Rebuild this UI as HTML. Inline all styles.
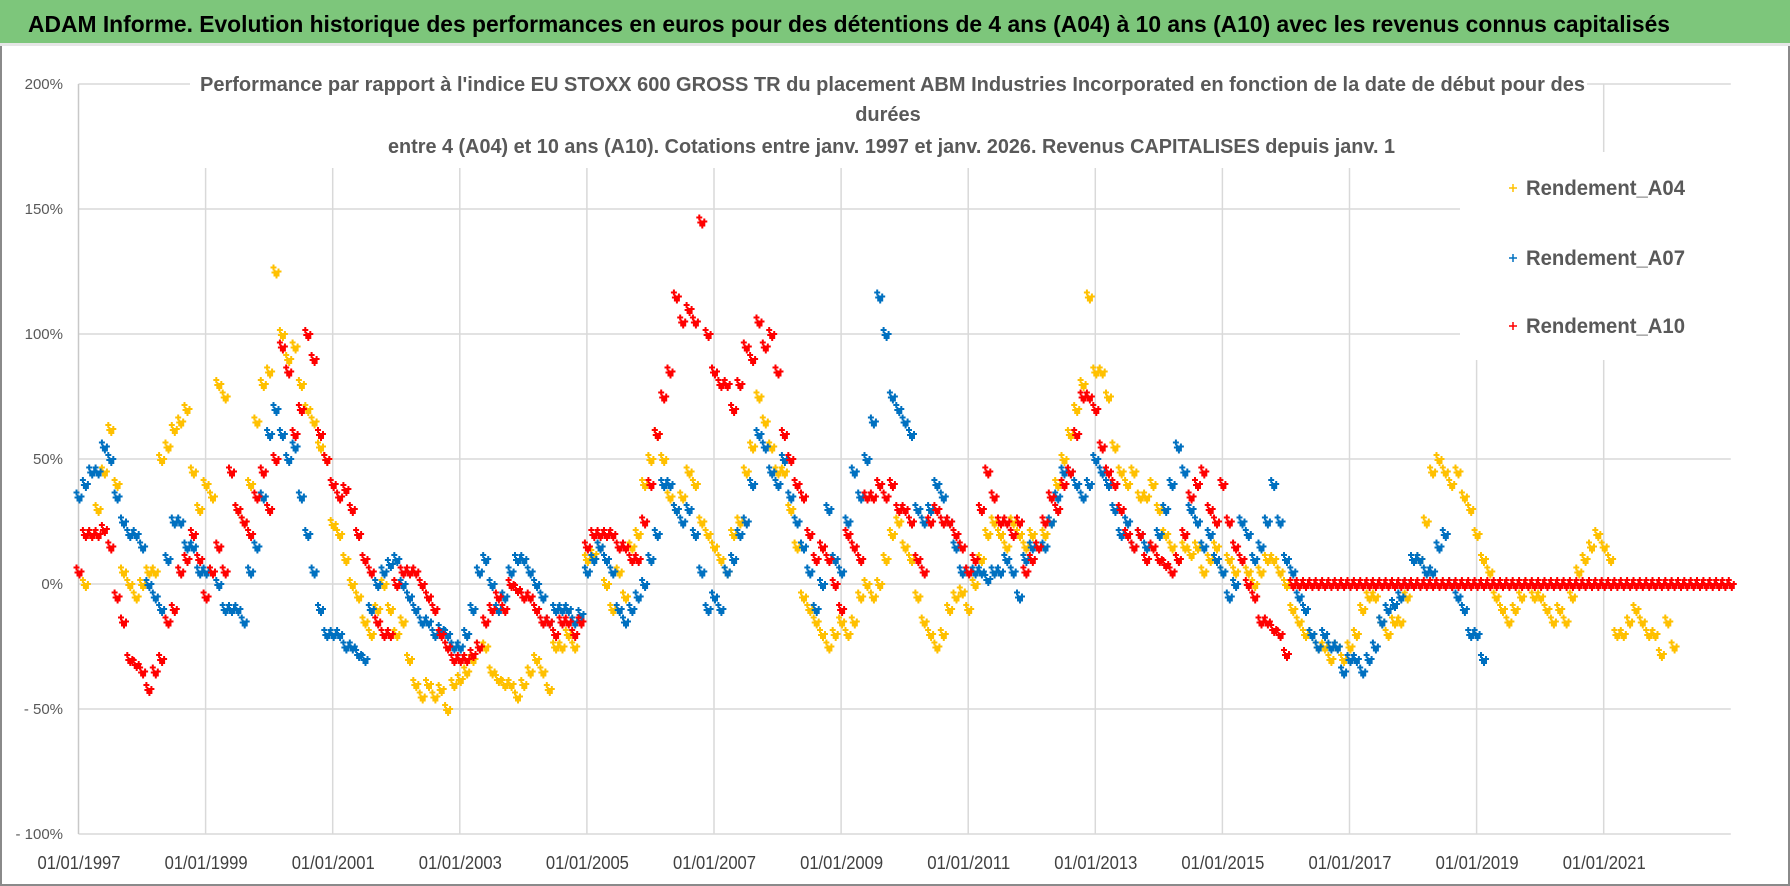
<!DOCTYPE html>
<html><head><meta charset="utf-8"><style>
html,body{margin:0;padding:0;background:#fff;}
svg{display:block;font-family:"Liberation Sans",sans-serif;}
</style></head><body>
<svg id="chart" width="1790" height="886" viewBox="0 0 1790 886" xmlns="http://www.w3.org/2000/svg">
<rect x="0" y="0" width="1790" height="886" fill="#fff"/>
<rect x="1" y="1" width="1788" height="884" fill="none" stroke="#8a8a8a" stroke-width="2"/>
<rect x="0" y="0" width="1790" height="43" fill="#7dc67b"/>
<rect x="0" y="43" width="1790" height="3" fill="#e6e6e6"/>
<text x="28" y="32" font-size="23" font-weight="bold" fill="#000" textLength="1642" lengthAdjust="spacingAndGlyphs">ADAM Informe. Evolution historique des performances en euros pour des détentions de 4 ans (A04) à 10 ans (A10) avec les revenus connus capitalisés</text>
<g id="grid"></g>
<g id="marks"></g>
<rect x="190" y="58" width="1397" height="110" fill="#fff"/>
<text x="200" y="91" font-size="20" font-weight="bold" fill="#595959" textLength="1385" lengthAdjust="spacingAndGlyphs">Performance par rapport à l'indice EU STOXX 600 GROSS TR  du placement ABM Industries Incorporated en fonction de la date de début pour des</text>
<text x="888" y="121" font-size="20" font-weight="bold" fill="#595959" text-anchor="middle">durées</text>
<text x="388" y="153" font-size="20" font-weight="bold" fill="#595959" textLength="1007" lengthAdjust="spacingAndGlyphs">entre 4 (A04) et 10 ans (A10).  Cotations entre janv. 1997 et janv. 2026. Revenus CAPITALISES depuis janv. 1</text>
<g>
<rect x="1460" y="152" width="275" height="208" fill="#fff"/>
<g><path d="M1509 188h8M1513 184v8" stroke="#ffc000" stroke-width="1.5"/><text x="1526" y="195" font-size="21" font-weight="bold" fill="#595959" textLength="159" lengthAdjust="spacingAndGlyphs">Rendement_A04</text></g>
<g><path d="M1509 258h8M1513 254v8" stroke="#0070c0" stroke-width="1.5"/><text x="1526" y="265" font-size="21" font-weight="bold" fill="#595959" textLength="159" lengthAdjust="spacingAndGlyphs">Rendement_A07</text></g>
<g><path d="M1509 326h8M1513 322v8" stroke="#ff0000" stroke-width="1.5"/><text x="1526" y="333" font-size="21" font-weight="bold" fill="#595959" textLength="159" lengthAdjust="spacingAndGlyphs">Rendement_A10</text></g>
</g>
<g id="axes"></g>
</svg>
<script>
const yTicks = [200, 150, 100, 50, 0, -50, -100];
const yTickLabels = ["200%", "150%", "100%", "50%", "0%", "- 50%", "- 100%"];
const xTickYears = [1997, 1999, 2001, 2003, 2005, 2007, 2009, 2011, 2013, 2015, 2017, 2019, 2021];
const xTickLabels = ["01/01/1997","01/01/1999","01/01/2001","01/01/2003","01/01/2005","01/01/2007","01/01/2009","01/01/2011","01/01/2013","01/01/2015","01/01/2017","01/01/2019","01/01/2021"];
const sampleStep = 0.1;
const startA04 = 1997.0;
const startA07 = 1997.0;
const startA10 = 1997.0;
const valuesA04 = [
5,0,20,30,45,62,40,5,0,-5,
0,5,5,50,55,62,65,70,45,30,
40,35,80,75,45,30,25,40,65,80,
85,125,100,90,95,80,70,65,55,50,
24,20,10,0,-5,-15,-20,-10,0,-10,
-20,-15,-30,-40,-45,-40,-45,-42,-50,-40,
-38,-35,-30,-25,-25,-35,-38,-40,-40,-45,
-40,-35,-30,-35,-42,-25,-25,-20,-25,-15,
10,12,15,0,-10,5,-5,15,20,40,
50,60,50,35,30,35,45,40,25,20,
15,10,5,20,25,45,55,75,65,55,
45,45,30,15,-5,-10,-15,-20,-25,-20,
-15,-20,-15,-5,0,-5,0,10,20,25,
15,10,-5,-15,-20,-25,-20,-10,-5,-3,
-10,0,10,20,25,20,15,25,20,15,
20,15,20,25,40,50,60,70,80,115,
85,85,75,55,45,40,45,35,35,40,
30,20,15,10,15,12,15,5,10,15,
5,10,5,10,5,0,5,10,10,5,
0,-10,-15,-20,-20,-25,-25,-30,-25,-30,
-25,-20,-10,-5,-5,-15,-20,-15,-15,-5,
0,10,25,45,50,45,40,45,35,30,
20,10,5,-5,-10,-15,-10,-5,0,-5,
-5,-10,-15,-10,-15,-5,5,10,15,20,
15,10,-20,-20,-15,-10,-15,-20,-20,-28,
-15,-25];
const valuesA07 = [
35,40,45,45,55,50,35,25,20,20,
15,0,-5,-10,10,25,25,15,15,5,
5,5,0,-10,-10,-10,-15,5,15,35,
60,70,60,50,55,35,20,5,-10,-20,
-20,-20,-25,-25,-28,-30,-10,0,5,8,
10,0,-5,-10,-15,-15,-20,-18,-20,-25,
-25,-20,-10,5,10,0,-10,-5,5,10,
10,5,0,-5,-15,-10,-10,-10,-15,-12,
5,10,15,10,5,-10,-15,-10,-5,0,
10,20,40,40,30,25,30,20,5,-10,
-5,-10,5,10,20,25,40,60,55,45,
40,50,35,25,15,5,-10,0,30,10,
5,25,45,35,50,65,115,100,75,70,
65,60,30,25,30,40,35,25,15,5,
5,5,5,2,5,5,10,5,-5,10,
15,15,15,25,35,45,45,40,35,40,
50,45,40,30,20,25,15,20,15,15,
20,30,40,55,45,30,25,15,20,10,
5,-5,0,25,20,10,15,25,40,25,
10,5,-5,-10,-20,-25,-20,-25,-25,-35,
-30,-30,-35,-30,-25,-15,-10,-8,-5,0,
10,10,5,5,15,20,0,-5,-10,-20,
-20,-30];
const valuesA10 = [
5,20,20,20,22,15,-5,-15,-30,-32,
-35,-42,-35,-30,-15,-10,5,10,20,10,
-5,5,15,5,45,30,25,20,35,45,
30,50,95,85,60,70,100,90,60,50,
40,35,38,30,20,10,5,-15,-20,-20,
0,5,5,5,0,-5,-10,-20,-25,-30,
-30,-30,-28,-25,-15,-10,-5,-10,0,-2,
-5,-5,-10,-15,-15,-20,-15,-15,-20,-15,
15,20,20,20,20,15,15,10,10,25,
40,60,75,85,115,105,110,105,145,100,
85,80,80,70,80,95,90,105,95,100,
85,60,50,40,35,20,10,15,10,0,
-10,20,15,10,35,35,40,35,40,30,
30,25,10,5,25,30,25,25,20,15,
5,10,30,45,35,25,25,20,25,5,
10,15,25,35,30,40,45,60,75,75,
70,55,45,40,30,20,15,20,10,15,
10,8,5,10,20,35,40,45,30,25,
40,25,15,10,0,-5,-15,-15,-18,-20,
-28,0,0,0,0,0,0,0,0,0,
0,0,0,0,0,0,0,0,0,0,
0,0,0,0,0,0,0,0,0,0,
0,0,0,0,0,0,0,0,0,0,
0,0,0,0,0,0,0,0,0,0,
0,0,0,0,0,0,0,0,0,0,
0,0,0,0,0,0,0,0,0,0,
0];

const NS = "http://www.w3.org/2000/svg";
const X0 = 78.5, PX_PER_YEAR = 63.55, Y0 = 584, PX_PER_PCT = 2.5;
const xEnd = 2023;
function xScale(year){ return X0 + (year - 1997) * PX_PER_YEAR; }
function yScale(v){ return Y0 - v * PX_PER_PCT; }

const grid = document.getElementById('grid');
const axes = document.getElementById('axes');
const marks = document.getElementById('marks');

yTicks.forEach((t, i) => {
  const ln = document.createElementNS(NS, 'line');
  ln.setAttribute('x1', X0); ln.setAttribute('x2', xScale(xEnd));
  ln.setAttribute('y1', yScale(t)); ln.setAttribute('y2', yScale(t));
  ln.setAttribute('stroke', '#d9d9d9'); ln.setAttribute('stroke-width', '1.5');
  
  
  grid.appendChild(ln);
  const tx = document.createElementNS(NS, 'text');
  tx.setAttribute('x', 63); tx.setAttribute('y', yScale(t) + 5);
  tx.setAttribute('text-anchor', 'end'); tx.setAttribute('font-size', '15');
  tx.setAttribute('fill', '#595959');
  tx.textContent = yTickLabels[i];
  
  
  axes.appendChild(tx);
});
xTickYears.forEach((yr, i) => {
  const ln = document.createElementNS(NS, 'line');
  ln.setAttribute('x1', xScale(yr)); ln.setAttribute('x2', xScale(yr));
  ln.setAttribute('y1', yScale(200)); ln.setAttribute('y2', yScale(-100));
  ln.setAttribute('stroke', yr === 1997 ? '#c8c8c8' : '#d9d9d9'); ln.setAttribute('stroke-width', '1.5');
  
  
  grid.appendChild(ln);
  const tx = document.createElementNS(NS, 'text');
  tx.setAttribute('x', xScale(yr) - 41); tx.setAttribute('y', 869);
  tx.setAttribute('font-size', '18'); tx.setAttribute('fill', '#404040');
  tx.setAttribute('textLength', '83'); tx.setAttribute('lengthAdjust', 'spacingAndGlyphs');
  tx.textContent = xTickLabels[i];
  
  
  axes.appendChild(tx);
});

// each sample is rendered as a small cluster of "+" glyphs (visual density only)
const clusterOffsets = [[-2, -4], [1, 4], [3, 0], [-1, 1]];
function drawSeries(vals, start, color, name){
  const g = document.createElementNS(NS, 'g');
  
  
  vals.forEach((v, i) => {
    const x = xScale(start + i * sampleStep), y = yScale(v);
    let d = '';
    clusterOffsets.forEach(o => {
      const cx = x + o[0], cy = y + o[1];
      d += `M${(cx-3).toFixed(1)} ${cy.toFixed(1)}h6M${cx.toFixed(1)} ${(cy-3).toFixed(1)}v6`;
    });
    const p = document.createElementNS(NS, 'path');
    p.setAttribute('d', d);
    p.setAttribute('stroke', color); p.setAttribute('stroke-width', '2');
    
    
    g.appendChild(p);
  });
  marks.appendChild(g);
}
drawSeries(valuesA04, startA04, '#ffc000', 'a04');
drawSeries(valuesA07, startA07, '#0070c0', 'a07');
drawSeries(valuesA10, startA10, '#ff0000', 'a10');
</script>
</body></html>
